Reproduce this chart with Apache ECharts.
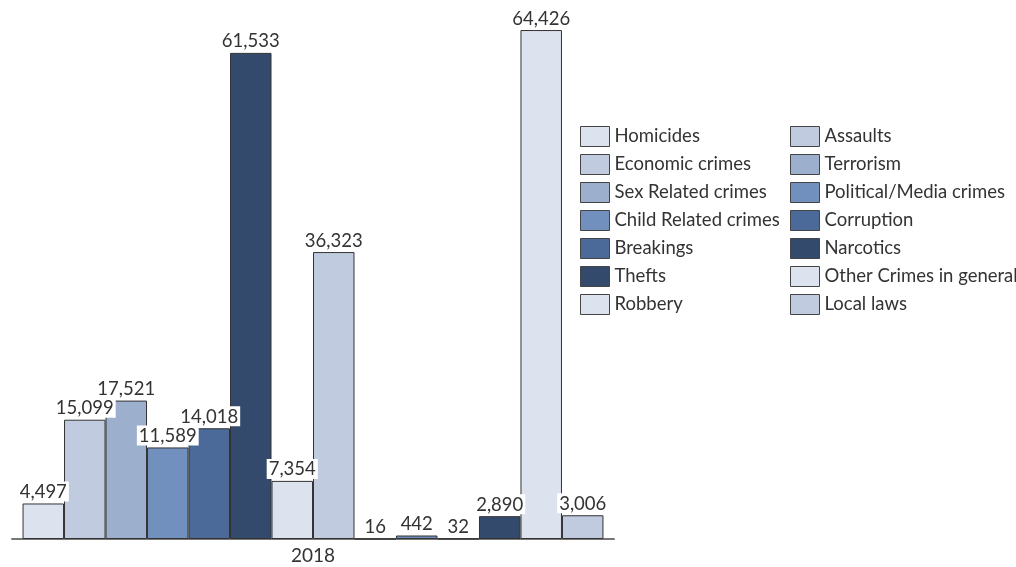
<!DOCTYPE html>
<html><head><meta charset="utf-8">
<script src="https://cdn.jsdelivr.net/npm/echarts@6/dist/echarts.min.js"></script>
<style>html,body{margin:0;padding:0;background:#fff}#c{width:1016px;height:567px}</style>
</head><body><div id="c"></div>
<script>
const categories = ['2018'];
const seriesNames = ['Homicides','Economic crimes','Sex Related crimes','Child Related crimes','Breakings','Thefts','Robbery','Assaults','Terrorism','Political/Media crimes','Corruption','Narcotics','Other Crimes in general','Local laws'];
const seriesValues = [4497, 15099, 17521, 11589, 14018, 61533, 7354, 36323, 16, 442, 32, 2890, 64426, 3006];
const colors = ['#dce2ee','#c1cbdf','#9cafcc','#7190be','#4b6a9a','#344a6c','#dce2ee','#c1cbdf','#9cafcc','#7190be','#4b6a9a','#344a6c','#dce2ee','#c1cbdf'];

const font = 'Lato';
const fmt = v => String(v).replace(/\B(?=(\d{3})+(?!\d))/g, ',');
const series = seriesNames.map((n, i) => ({
  name: n, type: 'bar', data: [seriesValues[i]],
  barGap: '0%', barCategoryGap: '3.5%',
  itemStyle: { color: colors[i], borderColor: '#333', borderWidth: 1 },
  label: { show: true, position: 'top', distance: 2, formatter: p => fmt(p.value),
    fontFamily: font, fontSize: 18.5, color: '#333', backgroundColor: '#fff', padding: [1, 2, 0, 2] },
  labelLayout: { moveOverlap: false }
}));
const legendStyle = { orient: 'vertical', icon: 'rect', itemWidth: 29, itemHeight: 20, itemGap: 7,
  textStyle: { fontFamily: font, fontSize: 18.5, color: '#333', lineHeight: 20 },
  itemStyle: { borderColor: '#444', borderWidth: 1 } };
const chart = echarts.init(document.getElementById('c'));
chart.setOption({
  animation: false,
  grid: { left: 12, right: 402, top: 25.5, bottom: 28 },
  legend: [
    Object.assign({ left: 575, top: 121, data: seriesNames.slice(0, 7) }, legendStyle),
    Object.assign({ left: 785, top: 121, data: seriesNames.slice(7) }, legendStyle)
  ],
  xAxis: { type: 'category', data: categories,
    axisLine: { lineStyle: { color: '#777', width: 2 } }, axisTick: { show: false },
    axisLabel: { fontFamily: font, fontSize: 19, color: '#333', margin: 7 } },
  yAxis: { type: 'value', min: 0, max: 65000, show: false, splitLine: { show: false } },
  series
});
</script></body></html>
